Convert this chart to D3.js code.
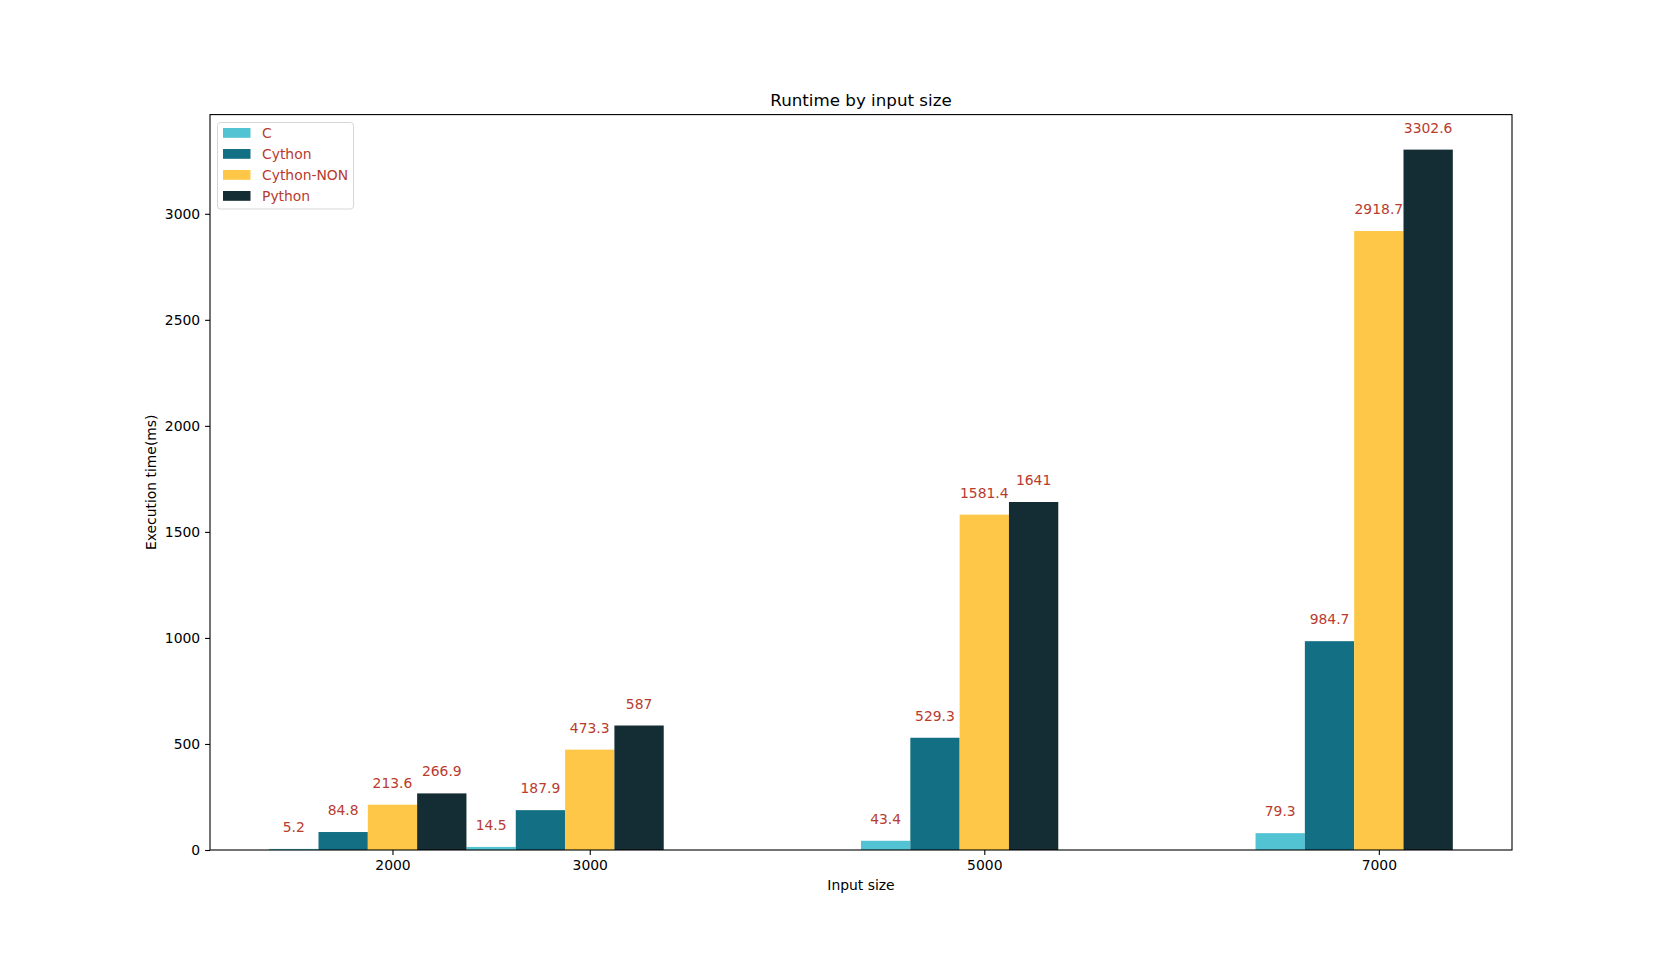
<!DOCTYPE html>
<html>
<head>
<meta charset="utf-8">
<script src="https://cdn.jsdelivr.net/npm/d3@7"></script>
<style>
  body { margin: 0; background: #fff; }
  text { font-family: 'DejaVu Sans', sans-serif; }
</style>
</head>
<body>
<svg id="chart" width="1680" height="955"></svg>
<script>
(function() {
  'use strict';

  // Data
  let sizes = [2000, 3000, 5000, 7000];
  let series = ['C', 'Cython', 'Cython-NON', 'Python'];
  let cTimes = [5.2, 14.5, 43.4, 79.3];
  let cythonTimes = [84.8, 187.9, 529.3, 984.7];
  let cythonNonTimes = [213.6, 473.3, 1581.4, 2918.7];
  let pythonTimes = [266.9, 587, 1641, 3302.6];
  let yTicks = [0, 500, 1000, 1500, 2000, 2500, 3000];
  let colors = ['#52c3d2', '#137084', '#fec748', '#142c33'];
  let labelColor = '#b83b2e';

  let values = [cTimes, cythonTimes, cythonNonTimes, pythonTimes];
  let barWidth = 250;
  let offsets = [-2, -1, 0, 1];

  let margin = {left: 210, right: 168, top: 114.6, bottom: 105};
  let width = 1680, height = 955;

  let svg = d3.select('#chart');

  // x extent like matplotlib: bar edges + 5% margin
  let xmin = d3.min(sizes) + offsets[0] * barWidth - barWidth / 2;
  let xmax = d3.max(sizes) + offsets[3] * barWidth + barWidth / 2;
  let xpad = (xmax - xmin) * 0.05;
  let x = d3.scaleLinear()
    .domain([xmin - xpad, xmax + xpad])
    .range([margin.left, width - margin.right]);

  let ymax = d3.max(pythonTimes) * 1.05;
  let y = d3.scaleLinear()
    .domain([0, ymax])
    .range([height - margin.bottom, margin.top]);

  // Bars
  let bars = [];
  values.forEach((vals, si) => {
    vals.forEach((v, i) => {
      bars.push({series: si, size: sizes[i], value: v});
    });
  });

  let g = svg.append('g');
  g.selectAll('rect.bar')
    .data(bars)
    .enter()
    .append('rect')
    .attr('class', 'bar')
    .attr('x', d => x(d.size + offsets[d.series] * barWidth - barWidth / 2))
    .attr('width', d => x(d.size + barWidth / 2) - x(d.size - barWidth / 2))
    .attr('y', d => y(d.value))
    .attr('height', d => y(0) - y(d.value))
    .style('fill', d => colors[d.series]);

  // Value labels
  g.selectAll('text.val')
    .data(bars)
    .enter()
    .append('text')
    .attr('class', 'val')
    .attr('x', d => x(d.size + offsets[d.series] * barWidth))
    .attr('y', d => y(d.value + 80))
    .style('text-anchor', 'middle')
    .style('font-size', '13.9px')
    .style('fill', labelColor)
    .text(d => d.value);

  // Axes
  let xAxis = d3.axisBottom(x).tickValues(sizes).tickSize(4.9).tickPadding(4.9).tickFormat(d3.format('d'));
  let yAxis = d3.axisLeft(y).tickValues(yTicks).tickSize(4.9).tickPadding(4.9).tickFormat(d3.format('d'));

  let gx = svg.append('g')
    .attr('transform', 'translate(0,' + y(0) + ')')
    .call(xAxis);
  let gy = svg.append('g')
    .attr('transform', 'translate(' + margin.left + ',0)')
    .call(yAxis);
  [gx, gy].forEach(a => {
    a.select('.domain').remove();
    a.selectAll('text').style('font-size', '13.9px').style('fill', '#000')
      .style('font-family', "'DejaVu Sans', sans-serif");
    a.selectAll('line').style('stroke', '#000').style('stroke-width', 1.1);
  });

  // Frame
  svg.append('rect')
    .attr('x', margin.left)
    .attr('y', margin.top)
    .attr('width', width - margin.left - margin.right)
    .attr('height', height - margin.top - margin.bottom)
    .style('fill', 'none')
    .style('stroke', '#000')
    .style('stroke-width', 1.1);

  // Title and axis labels
  svg.append('text')
    .attr('x', (margin.left + width - margin.right) / 2)
    .attr('y', margin.top - 8.5)
    .style('text-anchor', 'middle')
    .style('font-size', '16.7px')
    .text('Runtime by input size');

  svg.append('text')
    .attr('x', (margin.left + width - margin.right) / 2)
    .attr('y', 890)
    .style('text-anchor', 'middle')
    .style('font-size', '13.9px')
    .text('Input size');

  svg.append('text')
    .attr('transform', 'translate(156,' + ((margin.top + height - margin.bottom) / 2) + ') rotate(-90)')
    .style('text-anchor', 'middle')
    .style('font-size', '13.9px')
    .text('Execution time(ms)');

  // Legend
  let legend = svg.append('g').attr('transform', 'translate(217.5,122.5)');
  legend.append('rect')
    .attr('width', 136)
    .attr('height', 86.5)
    .attr('rx', 3)
    .style('fill', '#fff')
    .style('fill-opacity', 0.8)
    .style('stroke', '#d6d6d6')
    .style('stroke-width', 1);

  let items = legend.selectAll('g.item')
    .data(series)
    .enter()
    .append('g')
    .attr('class', 'item')
    .attr('transform', (d, i) => 'translate(0,' + (5.5 + i * 21) + ')');
  items.append('rect')
    .attr('x', 5.5)
    .attr('y', 0)
    .attr('width', 27.5)
    .attr('height', 9.8)
    .style('fill', (d, i) => colors[i]);
  items.append('text')
    .attr('x', 44.5)
    .attr('y', 10.3)
    .style('font-size', '13.9px')
    .style('fill', labelColor)
    .text(d => d);
})();
</script>
</body>
</html>
